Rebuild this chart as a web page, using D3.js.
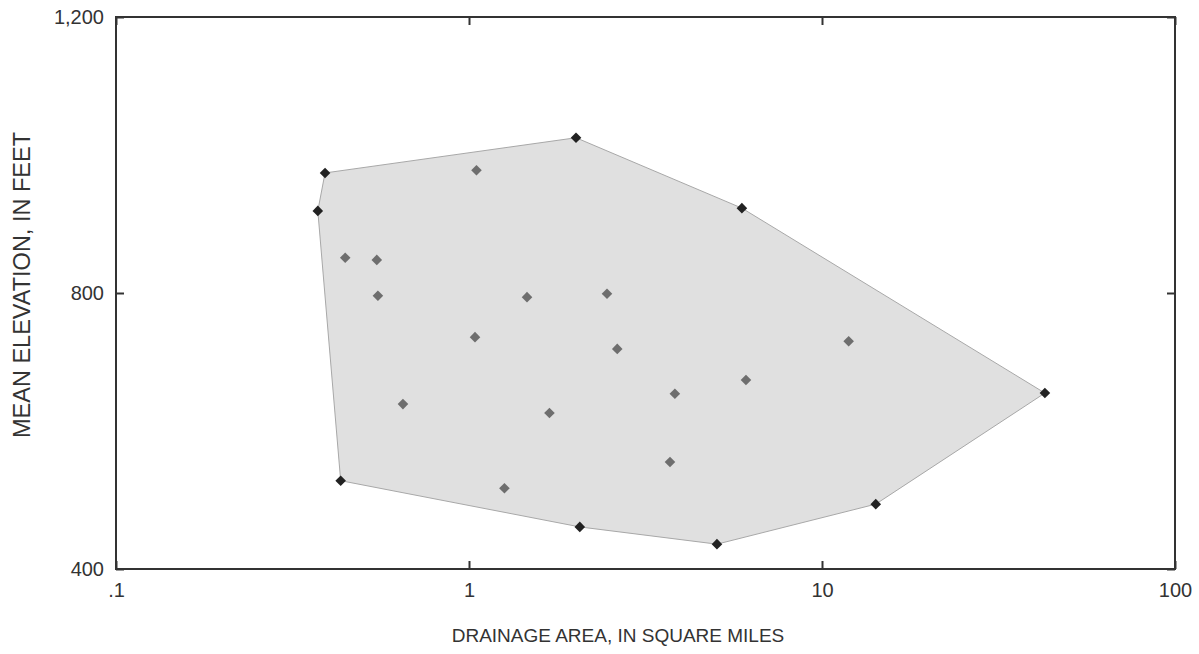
<!DOCTYPE html>
<html>
<head>
<meta charset="utf-8">
<script src="https://cdn.jsdelivr.net/npm/d3@7"></script>
<style>
  html, body { margin: 0; padding: 0; background: #fff; }
  svg { display: block; }
  text { font-family: "Liberation Sans", Arial, sans-serif; fill: #333; }
</style>
</head>
<body>
<svg id="chart" width="1199" height="654"></svg>
<script>
// Drainage area (square miles)
const drainageArea = [0.391, 0.373, 0.433, 2.06, 5.04, 14.2, 42.8, 5.93, 2.01,
  1.05, 0.446, 0.548, 0.552, 1.46, 2.46, 1.04, 2.63, 11.9, 6.09, 3.83, 0.65, 1.69, 3.71, 1.26];
// Mean elevation (feet)
const meanElevation = [974, 919, 528, 461, 436, 494, 655, 923, 1025,
  978, 851, 848, 796, 794, 799, 736, 719, 730, 674, 654, 639, 626, 555, 517];

const xTickValues = [0.1, 1, 10, 100];
const xTickLabels = [".1", "1", "10", "100"];
const yTickValues = [400, 800, 1200];
const yTickLabels = ["400", "800", "1,200"];

const margin = {left: 116, right: 24, top: 17, bottom: 85};
const W = 1199, H = 654;
const svg = d3.select("#chart");

const x = d3.scaleLog().domain([0.1, 100]).range([margin.left, W - margin.right]);
const y = d3.scaleLinear().domain([400, 1200]).range([H - margin.bottom, margin.top]);

const pts = drainageArea.map((a, i) => [x(a), y(meanElevation[i])]);
const hull = d3.polygonHull(pts);
const hullSet = new Set(hull.map(p => p.join(",")));

// hull polygon
svg.append("path")
  .attr("d", "M" + hull.map(p => p.join(",")).join("L") + "Z")
  .attr("fill", "#e0e0e0")
  .attr("stroke", "#a8a8a8")
  .attr("stroke-width", 1);

// points
const sym = d3.symbol().type(d3.symbolSquare).size(56);
svg.append("g").selectAll("path")
  .data(pts)
  .join("path")
  .attr("d", sym)
  .attr("transform", d => `translate(${d[0]},${d[1]}) rotate(45)`)
  .attr("fill", d => hullSet.has(d.join(",")) ? "#222" : "#6e6e6e");

// axes
const fmtX = (d) => xTickLabels[xTickValues.indexOf(d)];
const fmtY = (d) => yTickLabels[yTickValues.indexOf(d)];

const gx = svg.append("g").attr("transform", `translate(0,${H - margin.bottom})`)
  .call(d3.axisBottom(x).tickValues(xTickValues).tickFormat(fmtX).tickSizeInner(-8).tickSizeOuter(0).tickPadding(14));
const gy = svg.append("g").attr("transform", `translate(${margin.left},0)`)
  .call(d3.axisLeft(y).tickValues(yTickValues).tickFormat(fmtY).tickSizeInner(-8).tickSizeOuter(0).tickPadding(12));
const gt = svg.append("g").attr("transform", `translate(0,${margin.top})`)
  .call(d3.axisTop(x).tickValues(xTickValues).tickFormat("").tickSizeInner(-8).tickSizeOuter(0));
const gr = svg.append("g").attr("transform", `translate(${W - margin.right},0)`)
  .call(d3.axisRight(y).tickValues(yTickValues).tickFormat("").tickSizeInner(-8).tickSizeOuter(0));

[gx, gy, gt, gr].forEach(g => {
  g.select(".domain").remove();
  g.selectAll(".tick line").attr("stroke", "#333").attr("stroke-width", 2);
  g.selectAll(".tick text").attr("font-size", 20).attr("fill", "#333")
    .attr("font-family", "Liberation Sans, Arial, sans-serif");
});

// frame
svg.append("rect")
  .attr("x", margin.left).attr("y", margin.top)
  .attr("width", W - margin.left - margin.right)
  .attr("height", H - margin.top - margin.bottom)
  .attr("fill", "none").attr("stroke", "#333").attr("stroke-width", 2);

// titles
svg.append("text")
  .attr("x", 618).attr("y", 637)
  .attr("text-anchor", "middle").attr("dominant-baseline", "middle")
  .attr("font-size", 19)
  .text("DRAINAGE AREA, IN SQUARE MILES");

svg.append("text")
  .attr("transform", "translate(24,285) rotate(-90)")
  .attr("text-anchor", "middle").attr("dominant-baseline", "middle")
  .attr("font-size", 23.5)
  .text("MEAN ELEVATION, IN FEET");
</script>
</body>
</html>
